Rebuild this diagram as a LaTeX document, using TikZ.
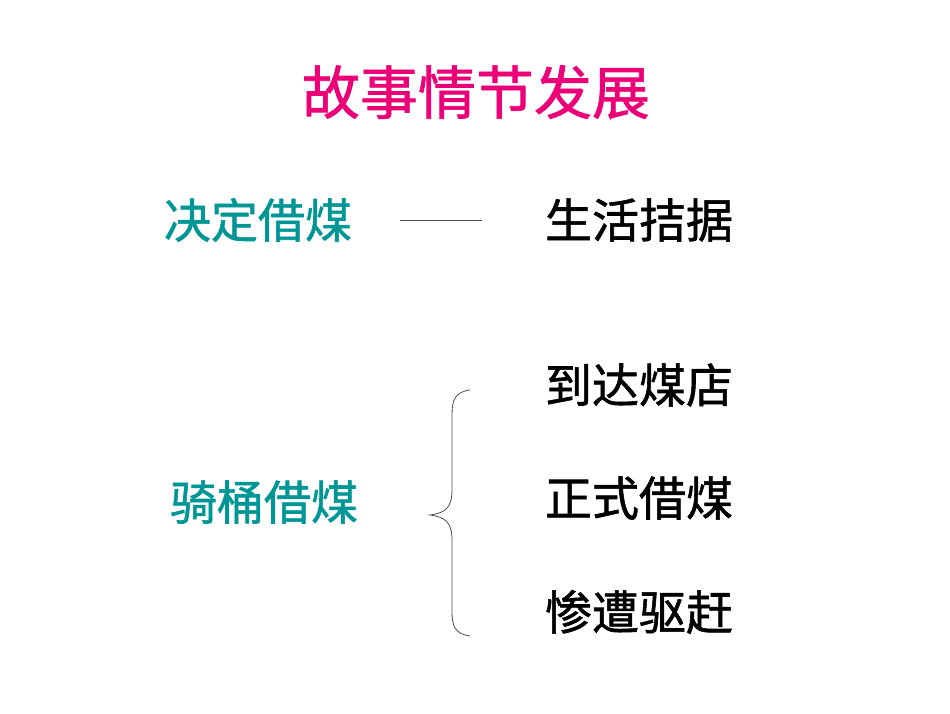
\documentclass[tikz,border=0pt]{standalone}
\usepackage{fontspec}
\newfontfamily\cjk[FakeBold=1.2]{Noto Sans CJK SC}
\definecolor{ttl}{RGB}{235,0,120}
\definecolor{tl}{RGB}{0,150,150}
\begin{document}
\begin{tikzpicture}[x=1pt,y=-1pt,
  lbl/.style={font=\cjk\fontsize{47}{50}\selectfont,inner sep=0},
  ln/.style={line width=0.8pt,black!70}]
\useasboundingbox (0,0) rectangle (950,713);
\node[lbl,text=ttl,font=\cjk\fontsize{58}{62}\selectfont] (title) at (476,92) {故事情节发展};
\node[lbl,text=tl] (a) at (258,220) {决定借煤};
\node[lbl] (a1) at (639,220) {生活拮据};
\node[lbl,text=tl] (b) at (264,502) {骑桶借煤};
\node[lbl] (b1) at (639,385) {到达煤店};
\node[lbl] (b2) at (639,498) {正式借煤};
\node[lbl] (b3) at (639,612) {惨遭驱赶};
\coordinate (l1) at (400,220);
\coordinate (l2) at (482,220);
\draw[ln] (l1) -- (l2);
\coordinate (bt) at (470,390);
\coordinate (bb) at (470,636);
\coordinate (bm) at (430,515);
\draw[ln] (bt) .. controls (455,392) and (452,400) .. (452,415) -- (452,490)
  .. controls (452,508) and (445,513) .. (bm)
  .. controls (445,517) and (452,522) .. (452,540) -- (452,612)
  .. controls (452,626) and (455,634) .. (bb);
\end{tikzpicture}
\end{document}
